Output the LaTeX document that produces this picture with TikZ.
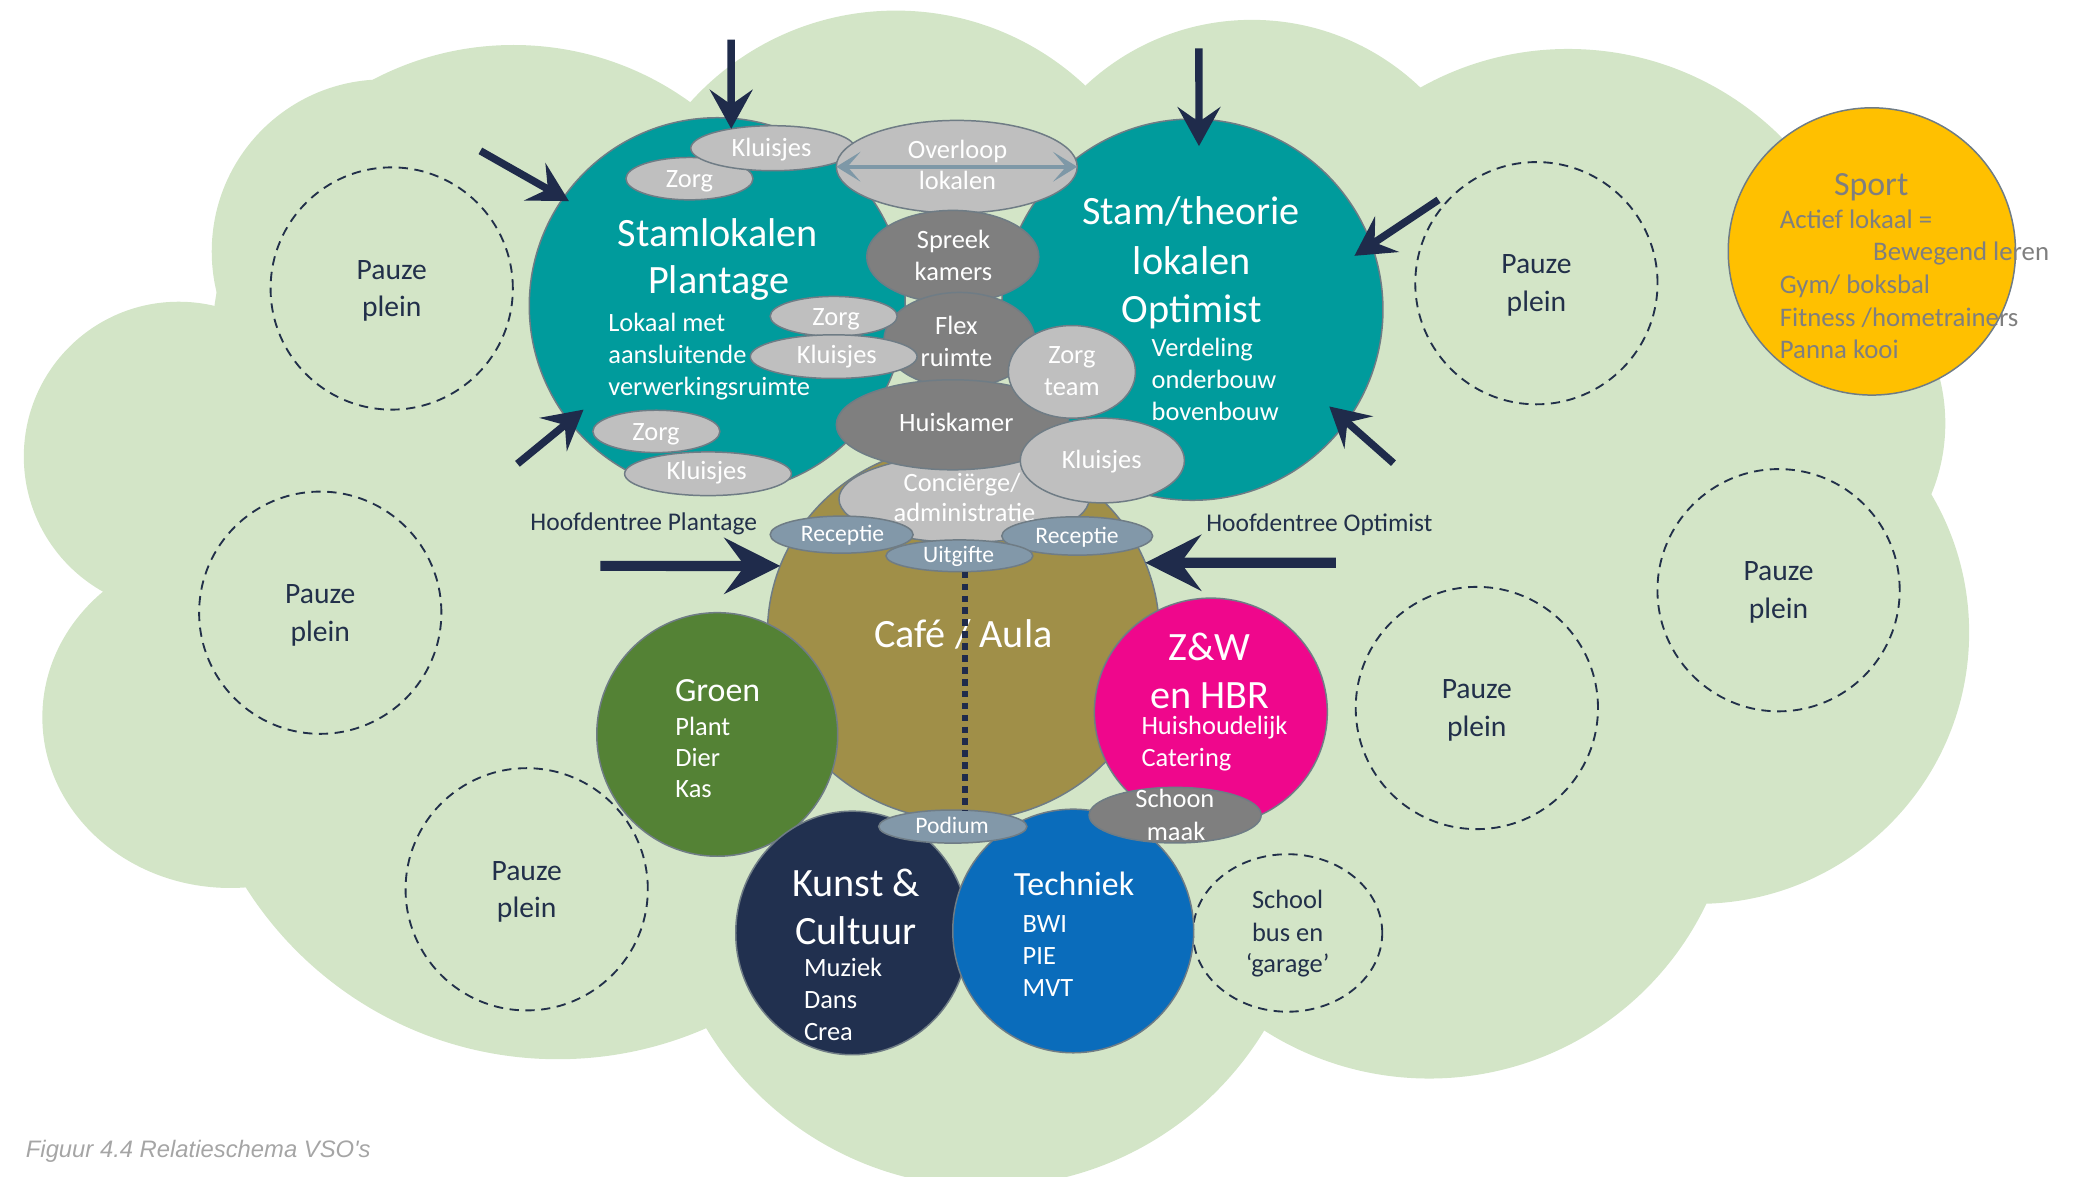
\documentclass[tikz,border=0pt]{standalone}
\usepackage{fontspec}
\setmainfont{Carlito}
\newfontfamily\capfont{Liberation Sans}
\usetikzlibrary{arrows.meta,shapes.geometric,calc}
\definecolor{cCloud}{HTML}{D3E5C7}
\definecolor{cTeal}{HTML}{009B9C}
\definecolor{cOlive}{HTML}{A08F48}
\definecolor{cGrn}{HTML}{548235}
\definecolor{cPink}{HTML}{EF078C}
\definecolor{cKunst}{HTML}{21304F}
\definecolor{cBlue}{HTML}{0A6CBB}
\definecolor{cGold}{HTML}{FFC000}
\definecolor{cLg}{HTML}{BFBFBF}
\definecolor{cDg}{HTML}{7F7F7F}
\definecolor{cSlate}{HTML}{8298A9}
\definecolor{cEdge}{HTML}{6F7C85}
\definecolor{cTxt}{HTML}{22304A}
\definecolor{cArr}{HTML}{1F2B4B}
\definecolor{cSportTxt}{HTML}{7F7F7F}
\definecolor{cCap}{HTML}{A5A5A5}
\definecolor{cDbl}{HTML}{7E98A7}
\tikzset{
  blob/.style={ellipse, draw=cEdge, line width=0.8pt, inner sep=0pt, outer sep=0pt},
  er/.style 2 args={minimum width=#1*0.05cm, minimum height=#2*0.05cm},
  lg/.style={blob, fill=cLg},
  dg/.style={blob, fill=cDg},
  sl/.style={blob, fill=cSlate},
  pauze/.style={ellipse, draw=cTxt, line width=1pt, dash pattern=on 5pt off 3.5pt, inner sep=0pt, outer sep=0pt},
  tb/.style={anchor=base, inner sep=0pt, outer sep=0pt},
  tbl/.style={anchor=base west, inner sep=0pt, outer sep=0pt},
  fS/.style={font=\fontsize{14.2}{17}\selectfont},
  fB/.style={font=\fontsize{14.4}{17}\selectfont},
  fP/.style={font=\fontsize{15.9}{19}\selectfont},
  fL/.style={font=\fontsize{21.6}{26}\selectfont},
  fM/.style={font=\fontsize{18.2}{22}\selectfont},
  fR/.style={font=\fontsize{12.7}{15}\selectfont},
  fH/.style={font=\fontsize{13.7}{16}\selectfont},
  wt/.style={text=white},
  dt/.style={text=cTxt},
  bigarr/.style={draw=cArr, line width=4pt, -{Stealth[length=21pt, width=23pt, inset=8pt]}},
  harr/.style={draw=cArr, line width=5.5pt, -{Stealth[length=30pt, width=30pt, inset=11pt]}},
  dbl/.style={draw=cDbl, line width=2.4pt, {Stealth[length=13pt,width=16pt,inset=7pt]}-{Stealth[length=13pt,width=16pt,inset=7pt]}},
  dotl/.style={draw=cArr, line width=3pt, dash pattern=on 3.6pt off 2.8pt},
}
\begin{document}
\begin{tikzpicture}[x=0.025cm,y=-0.025cm]
\useasboundingbox (0,0) rectangle (1568,889);
% ---- cloud ----
\foreach \cx/\cy/\r in {388/262/228, 290/190/130, 677/217/209, 946/199/184, 1185/265/228, 1330/320/140, 1283/478/205, 1080/583/232, 745/651/246, 421.5/521.4/279, 135/345/117}
  \fill[cCloud] (\cx,\cy) circle [radius=\r];
\fill[cCloud] (174,542) ellipse [x radius=142, y radius=129];
\fill[cCloud] (388,262) -- (677,217) -- (946,199) -- (1185,265) -- (1330,320) -- (1283,478) -- (1080,583) -- (745,651) -- (421.5,521.4) -- (174,542) -- (135,345) -- cycle;

% ---- pauze pleinen ----
\foreach \i/\cx/\cy in {1/296/218, 2/242/463, 3/398/672, 4/1161/214, 5/1344/446, 6/1116/535} {
  \node[pauze, er={91.5}{91.5}] (pz\i) at (\cx,\cy) {};
  \node[tb,fP,dt] (pzA\i) at (\cx,\cy-7) {Pauze};
  \node[tb,fP,dt] (pzB\i) at (\cx,\cy+21.5) {plein};
}
\node[pauze, er={71.5}{59.5}] (school) at (973,705) {};
\node[tb,fS,dt] (schoolA) at (973,686.5) {School};
\node[tb,fS,dt] (schoolB) at (973,711.5) {bus en};
\node[tb,fS,dt] (schoolC) at (973,735) {‘garage’};

% ---- main areas ----
\node[blob, fill=cTeal, er={142}{142}] (plantage) at (542,231) {};
\node[blob, fill=cTeal, er={144}{144}] (optimist) at (901,234) {};
\node[blob, fill=cGold, er={108.5}{108.5}] (sport) at (1414.5,190) {};
\node[blob, fill=cOlive, er={148}{142}] (cafe) at (728,478) {};
\node[blob, fill=cGrn, er={91}{92}] (groen) at (542,555) {};
\node[blob, fill=cPink, er={88}{86}] (zw) at (915,538) {};
\node[blob, fill=cKunst, er={88}{92}] (kunst) at (644,705) {};
\node[blob, fill=cBlue, er={91}{92}] (techniek) at (811,703.5) {};

% texts of main areas
\node[tb,fL,wt] (plA) at (542.5,186.4) {Stamlokalen};
\node[tb,fL,wt] (plB) at (543,221.8) {Plantage};
\node[tbl,fS,wt] (plC) at (459.7,250.6) {Lokaal met};
\node[tbl,fS,wt] (plD) at (459.7,274.6) {aansluitende};
\node[tbl,fS,wt] (plE) at (459.7,298.5) {verwerkingsruimte};
\node[tb,fL,wt] (opA) at (900,170) {Stam/theorie};
\node[tb,fL,wt] (opB) at (900.5,207.8) {lokalen};
\node[tb,fL,wt] (opC) at (900.5,243.8) {Optimist};
\node[tbl,fS,wt] (opD) at (870.3,269.5) {Verdeling};
\node[tbl,fS,wt] (opE) at (870.3,293.5) {onderbouw};
\node[tbl,fS,wt] (opF) at (870.3,317.4) {bovenbouw};
\node[tb,fM,text=cSportTxt] (spA) at (1414,147.4) {Sport};
\node[tbl,fB,text=cSportTxt] (spB) at (1345,172.5) {Actief lokaal =};
\node[tbl,fB,text=cSportTxt] (spC) at (1415.5,197) {Bewegend leren};
\node[tbl,fB,text=cSportTxt] (spD) at (1345,221.6) {Gym/ boksbal};
\node[tbl,fB,text=cSportTxt] (spE) at (1345,246.4) {Fitness /hometrainers};
\node[tbl,fB,text=cSportTxt] (spF) at (1345,270.7) {Panna kooi};
\node[tb,fL,wt] (cafeA) at (728,489.5) {Café / Aula};
\node[tb,fM,wt] (grA) at (542.3,530) {Groen};
\node[tbl,fS,wt] (grB) at (510.4,555.5) {Plant};
\node[tbl,fS,wt] (grC) at (510.4,579.4) {Dier};
\node[tbl,fS,wt] (grD) at (510.4,603) {Kas};
\node[tb,fL,wt] (zwA) at (914,498.8) {Z\&W};
\node[tb,fL,wt] (zwB) at (914.5,535.3) {en HBR};
\node[tbl,fS,wt] (zwC) at (862.6,555.4) {Huishoudelijk};
\node[tbl,fS,wt] (zwD) at (862.6,579.4) {Catering};
\node[tb,fL,wt] (kuA) at (647,677.8) {Kunst \&};
\node[tb,fL,wt] (kuB) at (647,714) {Cultuur};
\node[tbl,fS,wt] (kuC) at (607.6,738) {Muziek};
\node[tbl,fS,wt] (kuD) at (607.6,762) {Dans};
\node[tbl,fS,wt] (kuE) at (607.6,786) {Crea};
\node[tb,fM,wt] (teA) at (811.6,676.4) {Techniek};
\node[tbl,fS,wt] (teB) at (772.8,704.8) {BWI};
\node[tbl,fS,wt] (teC) at (772.8,728.7) {PIE};
\node[tbl,fS,wt] (teD) at (772.8,753) {MVT};

% ---- small rooms ----
\node[lg, er={48}{16}] (zorgA) at (521,135) {};
\node[tb,fS,wt] (zorgAt) at (521,142) {Zorg};
\node[lg, er={62}{17}] (kluisA) at (584,112) {};
\node[tb,fS,wt] (kluisAt) at (583,118.4) {Kluisjes};
\node[lg, er={91}{35}] (overloop) at (723,126) {};
\draw[dbl] (overloop.west) -- (overloop.east);
\node[tb,fS,wt] (overloopA) at (723.5,119.7) {Overloop};
\node[tb,fS,wt] (overloopB) at (723.5,143) {lokalen};
\node[dg, er={65}{35}] (spreek) at (720,194) {};
\node[tb,fS,wt] (spreekA) at (720.5,187.7) {Spreek};
\node[tb,fS,wt] (spreekB) at (720.5,211.6) {kamers};
\node[dg, er={57}{36}] (flex) at (725,257) {};
\node[tb,fS,wt] (flexA) at (722.7,253) {Flex};
\node[tb,fS,wt] (flexB) at (722.8,277) {ruimte};
\node[lg, er={48}{15}] (zorgB) at (630,239) {};
\node[tb,fS,wt] (zorgBt) at (631.8,245.6) {Zorg};
\node[lg, er={63}{16.5}] (kluisB) at (630,269.5) {};
\node[tb,fS,wt] (kluisBt) at (632.4,274.6) {Kluisjes};
\node[lg, er={94.5}{33}] (concierge) at (728.5,377) {};
\node[tb,fS,wt] (conA) at (727,371.6) {Conciërge/};
\node[tb,fS,wt] (conB) at (728.8,394.2) {administratie};
\node[dg, er={88}{34}] (huiskamer) at (720,321) {};
\node[tb,fS,wt] (huisA) at (722.7,326.2) {Huiskamer};
\node[lg, er={48}{35}] (zorgteam) at (810,281) {};
\node[tb,fS,wt] (ztA) at (810,274.6) {Zorg};
\node[tb,fS,wt] (ztB) at (810,298.5) {team};
\node[lg, er={62}{32}] (kluisC) at (833,348) {};
\node[tb,fS,wt] (kluisCt) at (832.5,353.8) {Kluisjes};
\node[lg, er={48}{16}] (zorgC) at (496,326) {};
\node[tb,fS,wt] (zorgCt) at (495.7,332.5) {Zorg};
\node[lg, er={63}{16.5}] (kluisD) at (535,358) {};
\node[tb,fS,wt] (kluisDt) at (534,362.7) {Kluisjes};
\node[sl, er={54}{14}] (recL) at (636,404) {};
\node[tb,fR,wt] (recLt) at (636.7,409.3) {Receptie};
\node[sl, er={57}{14.5}] (recR) at (814,405) {};
\node[tb,fR,wt] (recRt) at (813.9,410.6) {Receptie};
\node[sl, er={55.5}{12}] (uitgifte) at (725,420) {};
\node[tb,fR,wt] (uitt) at (724.4,425.2) {Uitgifte};
\node[dg, er={65}{21}] (schoon) at (888,616) {};
\node[tb,fS,wt] (schA) at (887.8,610) {Schoon};
\node[tb,fS,wt] (schB) at (888.7,634.8) {maak};
\node[sl, er={56}{12.5}] (podium) at (720,624.6) {};
\node[tb,fR,wt] (podt) at (719.4,629.6) {Podium};

\draw[dotl] ($(uitgifte.south)+(4,0)$) -- ($(podium.north)+(9,0)$);

% ---- labels ----
\node[tb,fH,dt] (hoofdP) at (486.5,400.5) {Hoofdentree Plantage};
\node[tb,fH,dt] (hoofdO) at (997,401.7) {Hoofdentree Optimist};
\node[anchor=base west, inner sep=0pt, text=cCap, font=\capfont\itshape\fontsize{12.8}{15}\selectfont] (caption) at (19.3,875) {Figuur 4.4 Relatieschema VSO\textquotesingle s};

% ---- arrows ----
\coordinate (s1) at (552.5,30);
\coordinate (s2) at (363,114);
\coordinate (s3) at (391,350.5);
\coordinate (s4) at (906,36.5);
\coordinate (s5) at (1087,151);
\coordinate (s6) at (1053,350);
\coordinate (s7) at (453.7,427.6);
\coordinate (s8) at (1009.4,425.2);
\draw[bigarr] (s1) -- (kluisA.155);
\draw[bigarr, shorten >=-3.5pt] (s2) -- (plantage.145);
\draw[bigarr, shorten >=-10pt] (s3) -- (plantage.218);
\draw[bigarr, shorten >=-14.5pt] (s4) -- (optimist.88);
\draw[bigarr, shorten >=-11pt] (s5) -- (optimist.20);
\draw[bigarr, shorten >=-12.4pt] (s6) -- (optimist.-36);
\draw[harr] (s7) -- (cafe.160);
\draw[harr] (s8) -- (cafe.21);
\end{tikzpicture}
\end{document}
